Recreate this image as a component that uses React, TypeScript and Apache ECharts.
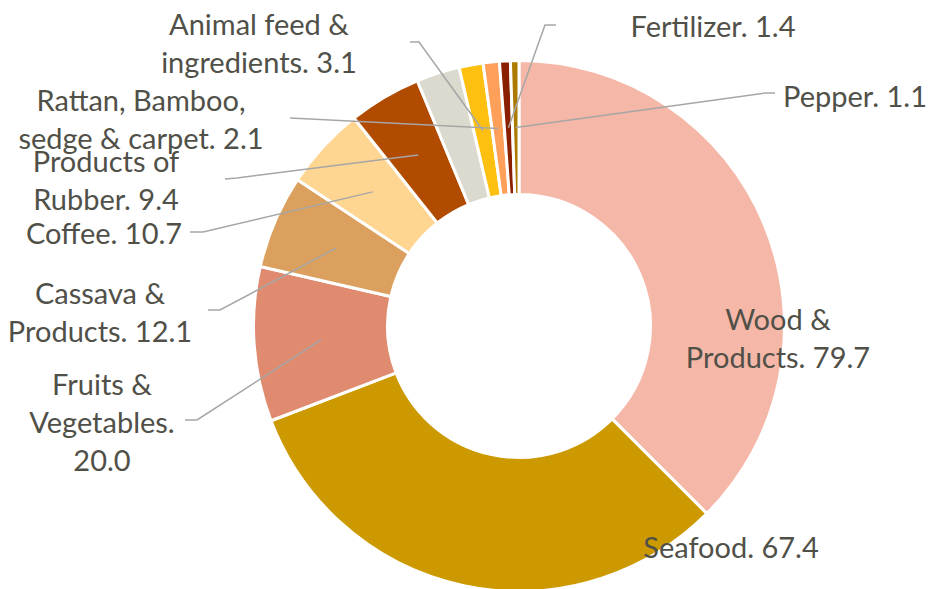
import React, { useEffect, useRef } from "react";
import * as echarts from "echarts";

const names = [
  "Wood & Products",
  "Seafood",
  "Fruits & Vegetables",
  "Cassava & Products",
  "Coffee",
  "Products of Rubber",
  "Others",
  "Animal feed & ingredients",
  "Rattan, Bamboo, sedge & carpet",
  "Fertilizer",
  "Pepper",
];
const values = [79.7, 67.4, 20.0, 12.1, 10.7, 9.4, 5.6, 3.1, 2.1, 1.4, 1.1];
const displayNames = [
  "Wood &\nProducts",
  "Seafood",
  "Fruits &\nVegetables",
  "Cassava &\nProducts",
  "Coffee",
  "Products of\nRubber",
  "",
  "Animal feed &\ningredients",
  "Rattan, Bamboo,\nsedge & carpet",
  "Fertilizer",
  "Pepper",
];
const valueSeparators = [". ", ". ", ".\n", ". ", ". ", ". ", "", ". ", ". ", ". ", ". "];
const colors = [
  "#F5B7A7",
  "#CC9900",
  "#E08B6F",
  "#DBA05D",
  "#FFD592",
  "#B04B00",
  "#DCD9CE",
  "#FEC010",
  "#FFA05A",
  "#8B2000",
  "#AC7A00",
];

// label anchor (centre of text block) and leader line elbow/end points
const labelPos: (number[] | null)[] = [
  [778, 337],
  [731, 546],
  [102, 421],
  [100, 311],
  [104, 232],
  [106, 179],
  null,
  [259, 42],
  [141, 118],
  [713, 25],
  [855, 95],
];
const lineBends: (number[][] | null)[] = [
  null,
  null,
  [[197, 420], [185, 420]],
  [[220, 310], [208, 310]],
  [[203, 232], [190, 232]],
  [[237, 178], [225, 179]],
  null,
  [[419, 42], [410, 42]],
  [[300, 118.5], [290, 118]],
  [[545, 25], [556, 25]],
  [[765, 93], [775, 93]],
];

const CX = 519;
const CY = 326;
const R_OUT = 265.5;
const R_IN = 131.5;
const R_MID = 198.5;

export default function App() {
  const ref = useRef<HTMLDivElement>(null);
  useEffect(() => {
    document.body.style.margin = "0";
    const chart = echarts.init(ref.current!, undefined, { renderer: "svg" });
    const sliceData = names.map((n, i) => ({
      name: n,
      value: values[i],
      itemStyle: { color: colors[i] },
    }));
    const labelData = names.map((n, i) => ({
      name: n,
      value: values[i],
      label: { show: i !== 6 },
      labelLine: { show: lineBends[i] !== null },
    }));
    chart.setOption({
      animation: false,
      backgroundColor: "#ffffff",
      series: [
        {
          type: "pie",
          z: 2,
          center: [CX, CY],
          radius: [R_IN, R_OUT],
          startAngle: 90,
          clockwise: true,
          itemStyle: { borderColor: "#ffffff", borderWidth: 3 },
          label: { show: false },
          labelLine: { show: false },
          data: sliceData,
        },
        {
          type: "pie",
          z: 5,
          silent: true,
          center: [CX, CY],
          radius: [R_IN, R_OUT],
          startAngle: 90,
          clockwise: true,
          avoidLabelOverlap: false,
          itemStyle: { color: "rgba(0,0,0,0)", borderWidth: 0 },
          label: {
            position: "outside",
            formatter: (p: any) =>
              displayNames[p.dataIndex] + valueSeparators[p.dataIndex] + values[p.dataIndex].toFixed(1),
            fontFamily: "Lato",
            fontSize: 29,
            lineHeight: 38,
            color: "#505048",
            align: "center",
          },
          labelLine: {
            minTurnAngle: 0,
            maxSurfaceAngle: 180,
            lineStyle: { color: "#A6A6A6", width: 1.5, opacity: 1 },
          },
          labelLayout: (params: any) => {
            const i = params.dataIndex;
            const pos = labelPos[i];
            if (!pos) return {};
            const res: any = {
              x: pos[0],
              y: pos[1],
              align: "center",
              verticalAlign: "middle",
            };
            const bends = lineBends[i];
            if (bends && params.labelLinePoints) {
              const p0 = params.labelLinePoints[0];
              const dx = p0[0] - CX;
              const dy = p0[1] - CY;
              const len = Math.sqrt(dx * dx + dy * dy) || 1;
              const start = [CX + (dx / len) * R_MID, CY + (dy / len) * R_MID];
              res.labelLinePoints = [start, bends[0], bends[1]];
            }
            return res;
          },
          data: labelData,
        },
      ],
    });
    return () => chart.dispose();
  }, []);
  return (
    <div
      ref={ref}
      style={{ position: "absolute", left: 0, top: 0, width: 932, height: 589 }}
    />
  );
}
